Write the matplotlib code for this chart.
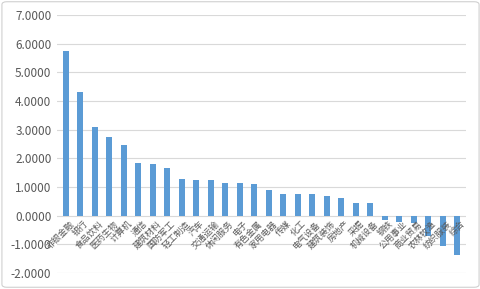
import matplotlib.pyplot as plt
from matplotlib.patches import FancyBboxPatch

plt.rcParams['font.family'] = ['Noto Sans CJK SC', 'DejaVu Sans']

# ==========================================
# DATOS
# ==========================================

industrias = [
    "非银金融", "银行", "食品饮料", "医药生物", "计算机", "通信", "建筑材料",
    "国防军工", "轻工制造", "汽车", "交通运输", "休闲服务", "电子", "有色金属",
    "家用电器", "传媒", "化工", "电气设备", "建筑装饰", "房地产", "采掘",
    "机械设备", "钢铁", "公用事业", "商业贸易", "农林牧渔", "纺织服装", "综合",
]

valores = [
    5.73, 4.31, 3.08, 2.76, 2.48, 1.85, 1.82,
    1.68, 1.29, 1.26, 1.26, 1.15, 1.15, 1.12,
    0.91, 0.77, 0.77, 0.77, 0.70, 0.63, 0.45,
    0.45, -0.16, -0.21, -0.24, -0.69, -1.07, -1.36,
]

y_ticks = [-2, -1, 0, 1, 2, 3, 4, 5, 6, 7]

# ==========================================
# GRÁFICA
# ==========================================

fig = plt.figure(figsize=(4.81, 2.89), dpi=100)
ax = fig.add_axes([0.1185, 0.055, 0.85, 0.893])

x = list(range(len(industrias)))
ax.bar(x, valores, width=0.42, color="#5B9BD5", zorder=3)

ax.set_ylim(-2, 7)
ax.set_xlim(-0.6, len(industrias) - 0.4)
ax.set_yticks(y_ticks)
ax.set_yticklabels([f"{v:.4f}" for v in y_ticks], fontsize=8.5, color="#595959")
ax.yaxis.grid(True, color="#D9D9D9", linewidth=0.8, zorder=0)
ax.tick_params(axis="y", length=0, pad=4)

ax.set_xticks([])
for s in ax.spines.values():
    s.set_visible(False)

for i, nombre in enumerate(industrias):
    ax.text(
        i + 0.25, -0.12, nombre,
        rotation=45, ha="right", va="top",
        rotation_mode="anchor",
        fontsize=6.3, color="#595959", zorder=4,
    )

borde = FancyBboxPatch(
    (0.004, 0.006), 0.992, 0.988,
    boxstyle="round,pad=0,rounding_size=0.01",
    transform=fig.transFigure, fill=False,
    edgecolor="#D0D0D0", linewidth=0.8,
)
fig.patches.append(borde)

fig.savefig("out.png", dpi=100)
